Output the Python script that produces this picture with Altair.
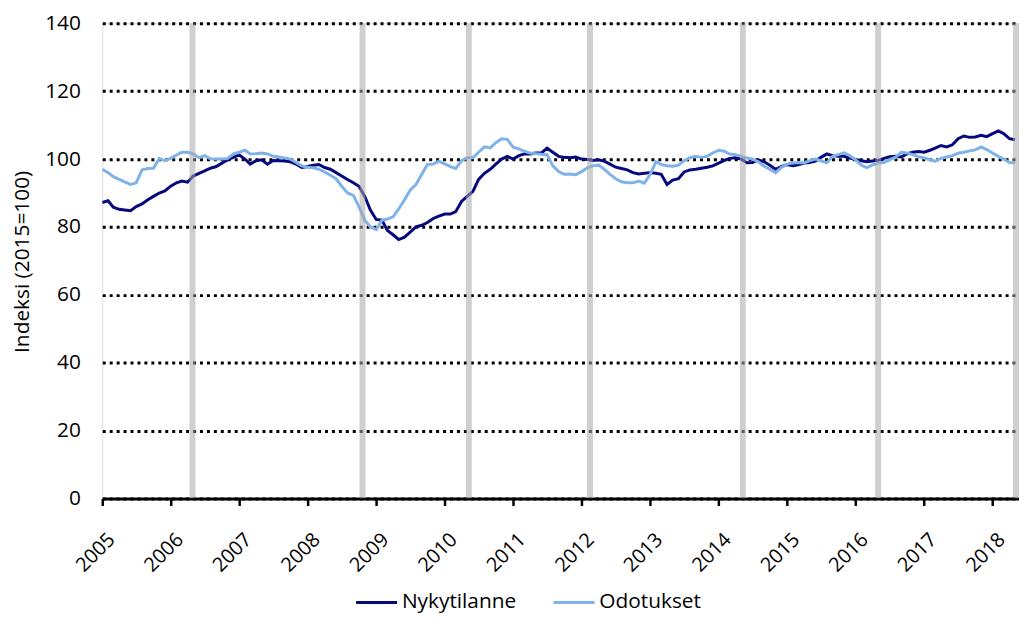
import altair as alt
import pandas as pd

nykytilanne = [
    87.2, 87.7, 85.8, 85.2, 85.0, 84.8, 86.0, 86.8, 88.0, 89.0, 90.0, 90.6,
    92.0, 93.0, 93.5, 93.2, 95.0, 95.8, 96.5, 97.3, 97.8, 98.8, 99.8, 100.5,
    101.2, 100.0, 98.5, 99.5, 99.8, 98.5, 99.6, 99.5, 99.4, 99.2, 98.5, 97.5,
    97.8, 98.2, 98.4, 97.5, 97.0, 96.0, 95.0, 94.0, 93.0, 92.0, 89.0, 85.0,
    82.2, 82.0, 79.0, 77.7, 76.3, 77.0, 78.5, 80.0, 80.5, 81.3, 82.5, 83.2,
    83.8, 83.8, 84.5, 87.5, 89.0, 90.5, 94.0, 95.8, 97.0, 98.5, 100.0, 100.8,
    100.0, 101.0, 101.5, 101.5, 101.8, 101.8, 103.2, 102.0, 100.8, 100.5, 100.4, 100.6,
    100.0, 99.9, 99.6, 99.8, 99.4, 98.5, 97.6, 97.2, 96.8, 96.0, 95.6, 95.8,
    96.0, 95.8, 95.5, 92.5, 93.8, 94.2, 96.2, 96.8, 97.0, 97.3, 97.6, 98.0,
    98.8, 99.6, 100.2, 100.4, 100.0, 98.9, 99.0, 99.8, 99.2, 98.2, 97.0, 97.8,
    98.4, 98.0, 98.3, 98.8, 99.0, 99.4, 100.5, 101.5, 101.0, 100.8, 100.8, 100.3,
    99.9, 99.5, 99.2, 99.4, 99.6, 100.2, 100.7, 100.8, 100.6, 101.5, 102.0, 102.2,
    102.0, 102.6, 103.2, 104.0, 103.6, 104.2, 106.0, 106.8, 106.4, 106.5, 107.0, 106.6,
    107.5, 108.3, 107.5, 106.0, 105.7,
]

odotukset = [
    97.0, 96.0, 94.8, 94.0, 93.3, 92.5, 93.0, 96.8, 97.2, 97.3, 100.2, 99.5,
    100.2, 101.2, 102.0, 102.0, 101.5, 100.4, 101.0, 100.1, 100.0, 100.0, 100.2, 101.5,
    102.0, 102.6, 101.5, 101.6, 101.8, 101.5, 100.8, 100.6, 100.3, 100.0, 99.0, 98.0,
    97.6, 97.4, 97.0, 96.2, 95.2, 94.2, 92.0, 90.0, 89.3, 86.0, 82.0, 80.0,
    79.2, 82.0, 82.3, 83.0, 85.3, 88.0, 90.8, 92.5, 95.5, 98.4, 98.5, 99.4,
    98.6, 97.8, 97.2, 99.5, 100.4, 100.4, 102.0, 103.6, 103.3, 104.8, 106.0, 105.8,
    103.5, 103.0, 102.3, 101.8, 101.6, 101.4, 101.3, 98.0, 96.3, 95.5, 95.6, 95.4,
    96.3, 97.4, 98.0, 98.2, 97.0, 95.5, 94.2, 93.3, 93.0, 93.0, 93.5, 92.9,
    95.5, 99.2, 98.4, 98.0, 97.9, 98.2, 99.5, 100.4, 100.8, 100.5, 100.8, 101.8,
    102.6, 102.3, 101.5, 101.3, 100.8, 100.3, 100.0, 99.2, 97.9, 97.0, 96.0, 97.5,
    98.5, 98.9, 98.9, 98.9, 99.5, 100.0, 99.5, 98.9, 100.8, 101.3, 101.8, 101.0,
    99.8, 98.2, 97.5, 98.3, 98.8, 99.0, 99.8, 100.5, 102.0, 101.8, 101.3, 100.7,
    100.3, 99.8, 99.4, 100.2, 100.6, 101.0, 101.7, 102.0, 102.4, 102.7, 103.6, 102.8,
    101.8, 100.8, 100.0, 99.0, 98.9,
]

series_names = ["Nykytilanne", "Odotukset"]
series_colors = ["#08087e", "#7fb3e8"]
marker_dates = ["2006-04-27", "2008-10-20", "2010-05-10", "2012-02-15",
                "2014-05-10", "2016-05-01", "2018-05-06"]
year_ticks = list(range(2005, 2019))
y_ticks = [0, 20, 40, 60, 80, 100, 120, 140]

months = pd.date_range("2005-01-01", periods=len(nykytilanne), freq="MS")
n = len(months)
df = pd.DataFrame({
    "date": [d.strftime("%Y-%m-%d") for d in months] * 2,
    "value": nykytilanne + odotukset,
    "series": [series_names[0]] * n + [series_names[1]] * n,
})
markers = pd.DataFrame({"date": marker_dates})

FONT = "Open Sans"
FS = 21
W, H = 924, 479

x_scale = alt.Scale(domain=[alt.DateTime(year=2005, month=1, date=1),
                            alt.DateTime(year=2018, month=5, date=22)],
                    nice=False)
y_scale = alt.Scale(domain=[0, 140], nice=False)

x_axis = alt.Axis(
    values=[alt.DateTime(year=y, month=1, date=1) for y in year_ticks],
    format="%Y", labelAngle=-45, labelFontSize=FS - 1, labelFont=FONT,
    labelColor="black", labelAlign="right", labelBaseline="top",
    labelPadding=24, labelOffset=2, labelFlush=False,
    domainColor="black", domainWidth=3,
    tickColor="black", tickWidth=2.5, tickSize=7, grid=False, title=None,
    labelOverlap=False,
)
y_axis = alt.Axis(
    values=y_ticks, labelFontSize=FS, labelFont=FONT, labelColor="black",
    labelPadding=22, ticks=False, domain=False, grid=True, gridColor="black",
    gridDash=[3, 4], gridWidth=3, title="Indeksi (2015=100)",
    titleFont=FONT, titleFontSize=FS, titleFontWeight="normal",
    titleColor="black", titleX=-80, titleY=240, titleAngle=-90,
    titleAlign="center", titleBaseline="middle",
)

lines = alt.Chart(df).mark_line(strokeWidth=3, clip=True).encode(
    x=alt.X("date:T", scale=x_scale, axis=x_axis),
    y=alt.Y("value:Q", scale=y_scale, axis=y_axis),
    color=alt.Color(
        "series:N",
        scale=alt.Scale(domain=series_names, range=series_colors),
        sort=series_names,
        legend=alt.Legend(
            title=None, orient="none", direction="horizontal",
            legendX=254, legendY=561, symbolType="stroke",
            symbolSize=1700, symbolStrokeWidth=3, labelFontSize=FS,
            labelFont=FONT, labelColor="black", columnPadding=30,
            labelOffset=3, padding=0,
        ),
    ),
    order=alt.Order("series:N"),
)

bars = alt.Chart(markers).mark_rule(
    color="#a8a8a8", strokeWidth=6, opacity=0.55, clip=True
).encode(
    x=alt.X("date:T", scale=x_scale),
    y=alt.datum(0),
    y2=alt.datum(140),
)

chart = alt.layer(lines, bars).properties(
    width=W, height=H,
    autosize=alt.AutoSizeParams(type="none"),
    padding={"left": 95, "top": 13, "right": 0, "bottom": 113},
).configure_view(stroke=None).configure(font=FONT)

chart.save("out.html", embed_options={"renderer": "svg", "actions": False})
